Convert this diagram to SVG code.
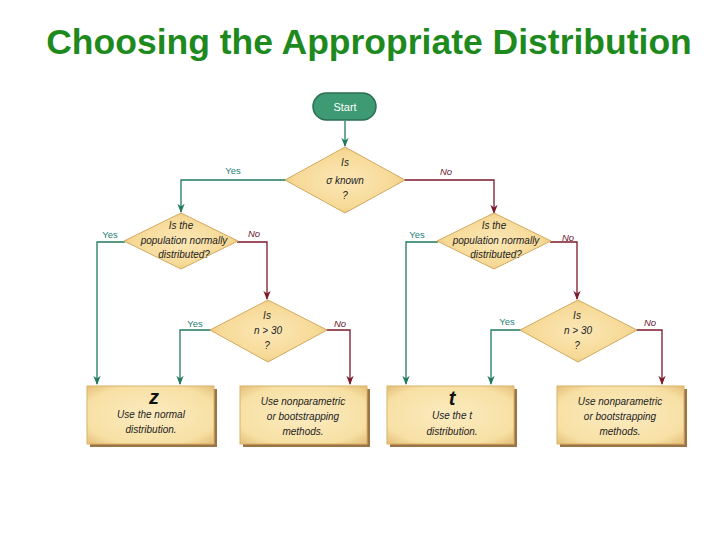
<svg xmlns="http://www.w3.org/2000/svg" width="720" height="540" viewBox="0 0 720 540">
<defs>
<radialGradient id="dg" cx="50%" cy="50%" r="60%">
<stop offset="0" stop-color="#fbe7b6"/><stop offset="0.7" stop-color="#f6d996"/><stop offset="1" stop-color="#e6bd72"/>
</radialGradient>
<radialGradient id="bg" cx="50%" cy="50%" r="70%">
<stop offset="0" stop-color="#fbebc0"/><stop offset="0.75" stop-color="#f7e0a4"/><stop offset="1" stop-color="#e4bf78"/>
</radialGradient>
<marker id="ag" viewBox="0 0 10 10" refX="9" refY="5" markerWidth="7" markerHeight="7" orient="auto"><path d="M0,1 L10,5 L0,9 L3,5 z" fill="#1f7a5a"/></marker>
<marker id="ar" viewBox="0 0 10 10" refX="9" refY="5" markerWidth="7" markerHeight="7" orient="auto"><path d="M0,1 L10,5 L0,9 L3,5 z" fill="#7a1a2a"/></marker>
</defs>
<style>
.title{font-family:"Liberation Sans",Arial,sans-serif;font-weight:bold;font-size:35.5px;fill:#1e8a1e}
.t{font-family:"Liberation Sans",Arial,sans-serif;font-style:italic;font-size:10px;fill:#222;text-anchor:middle}
.big{font-family:"Liberation Sans",Arial,sans-serif;font-style:italic;font-weight:bold;font-size:20px;fill:#111;text-anchor:middle}
.ly{font-family:"Liberation Sans",Arial,sans-serif;font-size:9.5px;fill:#2a7f7a;text-anchor:middle}
.ln{font-family:"Liberation Sans",Arial,sans-serif;font-style:italic;font-size:9.5px;fill:#6a1630;text-anchor:middle}
.dia{fill:url(#dg);stroke:#d2a961;stroke-width:1}
.box{fill:url(#bg);stroke:#dcb26a;stroke-width:1}
.sh{fill:#9a7444}
.g{fill:none;stroke:#1f7a5a;stroke-width:1.3;marker-end:url(#ag)}
.r{fill:none;stroke:#7a1a2a;stroke-width:1.3;marker-end:url(#ar)}
</style>
<rect width="720" height="540" fill="#ffffff"/>
<text class="title" x="369" y="54" text-anchor="middle">Choosing the Appropriate Distribution</text>

<g id="connectors">
<path class="g" d="M345,121 L345,146"/>
<path class="g" d="M286,180 L181,180 L181,212"/>
<path class="r" d="M404,180 L494,180 L494,213"/>
<path class="g" d="M125,242 L97,242 L97,384"/>
<path class="r" d="M237,242 L267,242 L267,299"/>
<path class="g" d="M211,330 L180,330 L180,384"/>
<path class="r" d="M326,330 L350,330 L350,384"/>
<path class="g" d="M438,242 L406,242 L406,384"/>
<path class="r" d="M550,242 L577,242 L577,299"/>
<path class="g" d="M521,330 L491,330 L491,384"/>
<path class="r" d="M636,330 L662,330 L662,384"/>
<text class="ly" x="233" y="174">Yes</text>
<text class="ln" x="446" y="175">No</text>
<text class="ly" x="110" y="238">Yes</text>
<text class="ln" x="254" y="237">No</text>
<text class="ly" x="195" y="327">Yes</text>
<text class="ln" x="340" y="327">No</text>
<text class="ly" x="417" y="238">Yes</text>
<text class="ln" x="568" y="241">No</text>
<text class="ly" x="507" y="325">Yes</text>
<text class="ln" x="650" y="326">No</text>
</g>

<g id="start">
<rect x="313" y="93" width="63" height="27" rx="13.5" fill="#3d9a72" stroke="#2a6f52" stroke-width="1.5"/>
<text x="345" y="111" text-anchor="middle" font-family="Liberation Sans, Arial, sans-serif" font-size="11" fill="#ffffff">Start</text>
</g>

<g id="q1">
<polygon class="dia" points="345,147 405,180 345,213 285,180"/>
<text class="t" x="345" y="166">Is</text>
<text class="t" x="345" y="184">σ known</text>
<text class="t" x="345" y="199">?</text>
</g>

<g id="q2l">
<polygon class="dia" points="181,213 238,241 181,269 124,241"/>
<text class="t" x="181" y="229">Is the</text>
<text class="t" x="184" y="244">population normally</text>
<text class="t" x="184" y="258">distributed?</text>
</g>

<g id="q3l">
<polygon class="dia" points="268,300 327,330 268,362 210,330"/>
<text class="t" x="267" y="319">Is</text>
<text class="t" x="268" y="334" font-size="11">n &gt; 30</text>
<text class="t" x="267" y="349">?</text>
</g>

<g id="q2r">
<polygon class="dia" points="494,213 551,241 494,269 437,241"/>
<text class="t" x="494" y="229">Is the</text>
<text class="t" x="496" y="244">population normally</text>
<text class="t" x="496" y="258">distributed?</text>
</g>

<g id="q3r">
<polygon class="dia" points="578,300 637,330 578,362 520,330"/>
<text class="t" x="577" y="319">Is</text>
<text class="t" x="578" y="334" font-size="11">n &gt; 30</text>
<text class="t" x="577" y="349">?</text>
</g>

<g id="boxz">
<rect class="sh" x="90" y="389" width="127" height="58"/>
<rect class="box" x="87" y="386" width="127" height="58"/>
<text class="big" x="154" y="404" font-size="17">z</text>
<text class="t" x="151" y="418">Use the normal</text>
<text class="t" x="151" y="433">distribution.</text>
</g>

<g id="boxnp1">
<rect class="sh" x="243" y="389" width="127" height="58"/>
<rect class="box" x="240" y="386" width="127" height="58"/>
<text class="t" x="303" y="405">Use nonparametric</text>
<text class="t" x="303" y="420">or bootstrapping</text>
<text class="t" x="303" y="435">methods.</text>
</g>

<g id="boxt">
<rect class="sh" x="390" y="389" width="127" height="58"/>
<rect class="box" x="387" y="386" width="127" height="58"/>
<text class="big" x="452" y="405">t</text>
<text class="t" x="452" y="419">Use the t</text>
<text class="t" x="452" y="435">distribution.</text>
</g>

<g id="boxnp2">
<rect class="sh" x="560" y="389" width="127" height="58"/>
<rect class="box" x="557" y="386" width="127" height="58"/>
<text class="t" x="620" y="405">Use nonparametric</text>
<text class="t" x="620" y="420">or bootstrapping</text>
<text class="t" x="620" y="435">methods.</text>
</g>
</svg>
